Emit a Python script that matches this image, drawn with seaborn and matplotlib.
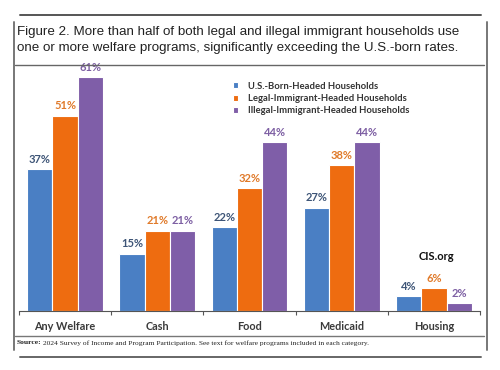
import pandas as pd
import seaborn as sns
import matplotlib.pyplot as plt
from matplotlib.lines import Line2D

categories = ['Any Welfare', 'Cash', 'Food', 'Medicaid', 'Housing']
groups = ['U.S.-Born-Headed Households',
          'Legal-Immigrant-Headed Households',
          'Illegal-Immigrant-Headed Households']
us_born = [37, 15, 22, 27, 4]
legal = [51, 21, 32, 38, 6]
illegal = [61, 21, 44, 44, 2]

bar_colors = ['#4a7fc4', '#ee6c10', '#7f5ea8']
label_colors = ['#3e5577', '#e07a2a', '#7d5fa3']

df = pd.DataFrame({
    'Category': categories * 3,
    'Group': [groups[0]] * 5 + [groups[1]] * 5 + [groups[2]] * 5,
    'Share': us_born + legal + illegal,
})

sns.set_style('white')
plt.rcParams['font.family'] = ['Lato', 'DejaVu Sans']

fig = plt.figure(figsize=(5, 3.7), dpi=100)
W, H = 500, 370
ax = fig.add_axes([19 / W, 1 - 311 / H, 461 / W, 249 / H])

sns.barplot(data=df, x='Category', y='Share', hue='Group', palette=bar_colors,
            saturation=1, width=0.82, edgecolor='white', linewidth=0.8, ax=ax,
            legend=True)

# value labels
for cont, col in zip(ax.containers, label_colors):
    ax.bar_label(cont, labels=[f'{v:.0f}%' for v in cont.datavalues],
                 padding=3, color=col, fontsize=8, fontweight='bold')

ax.set_ylim(0, 65)
ax.set_xlim(-0.5, 4.5)
ax.set_yticks([])
ax.set_xlabel('')
ax.set_ylabel('')
for s in ['top', 'right', 'left']:
    ax.spines[s].set_visible(False)
ax.spines['bottom'].set_color('#555555')
ax.spines['bottom'].set_linewidth(0.8)
ax.set_xticks([-0.5, 0.5, 1.5, 2.5, 3.5, 4.5], minor=True)
ax.tick_params(axis='x', which='minor', length=3, color='#555555', width=0.8, bottom=True)
ax.tick_params(axis='x', which='major', length=0, pad=7, labelsize=7.8, labelcolor='#3a3a3a')
for t in ax.get_xticklabels():
    t.set_fontweight('bold')

leg = ax.legend(loc='upper left', bbox_to_anchor=(0.445, 0.955), frameon=False,
                fontsize=6.8, handlelength=0.6, handleheight=0.6, handletextpad=1.0,
                labelspacing=0.35)
for txt in leg.get_texts():
    txt.set_fontweight('bold')
    txt.set_color('#333333')

fig.text(436 / W, 1 - 257 / H, 'CIS.org', fontsize=8, fontweight='bold',
         ha='center', va='center', color='#111111')

# title
fig.text(17 / W, 1 - 32 / H,
         'Figure 2. More than half of both legal and illegal immigrant households use',
         fontsize=9.6, family='Liberation Sans', va='center', color='#222222')
fig.text(17 / W, 1 - 48 / H,
         'one or more welfare programs, significantly exceeding the U.S.-born rates.',
         fontsize=9.6, family='Liberation Sans', va='center', color='#222222')

# source
fig.text(17 / W, 1 - 343 / H, 'Source:', fontsize=5.4, family='Liberation Serif',
         fontweight='bold', va='center', color='#222222')
fig.text(43 / W, 1 - 343 / H,
         '2024 Survey of Income and Program Participation. See text for welfare programs included in each category.',
         fontsize=5.4, family='Liberation Serif', va='center', color='#222222')

# frame lines
def hline(y, x0, x1, lw, c):
    fig.add_artist(Line2D([x0 / W, x1 / W], [1 - y / H, 1 - y / H], lw=lw, color=c))

def vline(x, y0, y1, lw, c):
    fig.add_artist(Line2D([x / W, x / W], [1 - y0 / H, 1 - y1 / H], lw=lw, color=c))

hline(15, 20, 481, 1.4, '#555555')
hline(65, 15, 484, 1.0, '#666666')
hline(336, 15, 484, 1.0, '#777777')
hline(357, 20, 481, 1.4, '#666666')
vline(14, 22, 350, 1.4, '#777777')
vline(487, 22, 350, 1.4, '#777777')

fig.savefig('out.png', dpi=100)
